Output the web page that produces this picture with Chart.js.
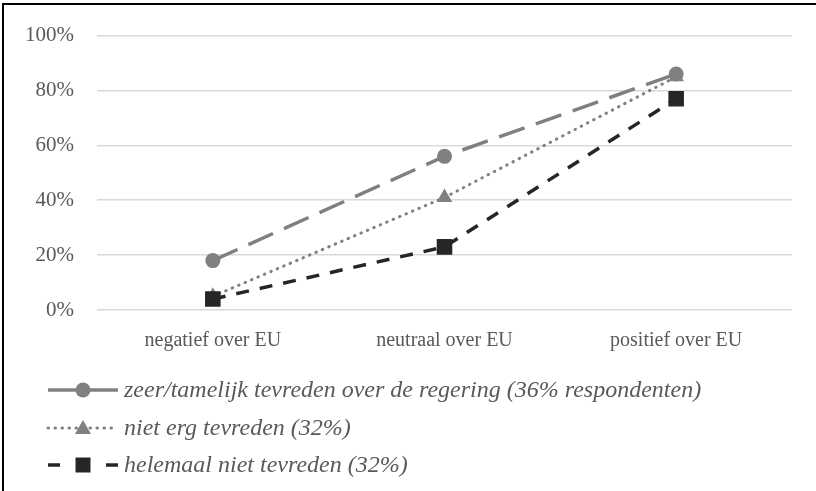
<!DOCTYPE html>
<html>
<head>
<meta charset="utf-8">
<script src="https://cdn.jsdelivr.net/npm/chart.js@4/dist/chart.umd.min.js"></script>
<style>
  html, body { margin: 0; padding: 0; background: #fff; }
  #wrap { position: relative; width: 816px; height: 491px; overflow: hidden; }
  #frameTop { position: absolute; left: 2px; top: 3px; width: 814px; height: 2px; background: #000; }
  #frameLeft { position: absolute; left: 2px; top: 3px; width: 2px; height: 488px; background: #000; }
  canvas { position: absolute; left: 0; top: 0; }
</style>
</head>
<body>
<div id="wrap">
  <canvas id="chart" width="816" height="491"></canvas>
  <div id="frameTop"></div>
  <div id="frameLeft"></div>
</div>
<script>
// data
var categories = ["negatief over EU", "neutraal over EU", "positief over EU"];
var seriesNames = [
  "zeer/tamelijk tevreden over de regering (36% respondenten)",
  "niet erg tevreden (32%)",
  "helemaal niet tevreden (32%)"
];
var tevreden = [18, 56, 86];
var nietErgTevreden = [5, 41, 85];
var helemaalNietTevreden = [4, 23, 77];
var yTicks = [0, 20, 40, 60, 80, 100];

var FONT = "'Liberation Serif', 'Times New Roman', serif";
var TEXT = "#595959";
var GRAY = "#808080";
var DARK = "#262626";

// legend drawn one entry per line, like the original
var stackedLegend = {
  id: "stackedLegend",
  afterDraw: function (chart) {
    var ctx = chart.ctx;
    var rows = [390, 428, 465];
    var x0 = 48, x1 = 118, xm = 83;
    chart.data.datasets.forEach(function (ds, i) {
      var y = rows[i];
      ctx.save();
      ctx.strokeStyle = ds.borderColor;
      ctx.lineWidth = ds.borderWidth;
      ctx.lineCap = i === 1 ? "round" : "butt";
      if (i === 0) ctx.setLineDash([]);
      if (i === 1) ctx.setLineDash([0.5, 6.5]);
      if (i === 2) ctx.setLineDash([12, 46]);
      ctx.beginPath();
      ctx.moveTo(x0, y);
      ctx.lineTo(x1, y);
      ctx.stroke();
      ctx.setLineDash([]);
      ctx.fillStyle = ds.pointBackgroundColor;
      ctx.beginPath();
      if (ds.pointStyle === "circle") {
        ctx.arc(xm, y, 7.5, 0, Math.PI * 2);
      } else if (ds.pointStyle === "triangle") {
        ctx.moveTo(xm, y - 8);
        ctx.lineTo(xm + 8, y + 6);
        ctx.lineTo(xm - 8, y + 6);
        ctx.closePath();
      } else {
        ctx.rect(xm - 7.5, y - 7.5, 15, 15);
      }
      ctx.fill();
      ctx.font = "italic 24px " + FONT;
      ctx.fillStyle = TEXT;
      ctx.textBaseline = "middle";
      ctx.fillText(seriesNames[i], 124, y + 1);
      ctx.restore();
    });
  }
};

var ctx = document.getElementById("chart");
var myChart = new Chart(ctx, {
  type: "line",
  data: {
    labels: categories,
    datasets: [
      {
        label: seriesNames[0],
        data: tevreden,
        borderColor: GRAY,
        borderWidth: 3.5,
        borderDash: [27, 12],
        pointStyle: "circle",
        pointRadius: 7.5,
        pointBackgroundColor: GRAY,
        pointBorderWidth: 0,
        order: 0,
        fill: false,
      },
      {
        label: seriesNames[1],
        data: nietErgTevreden,
        borderColor: GRAY,
        borderWidth: 3,
        borderDash: [0.5, 6.5],
        borderCapStyle: "round",
        pointStyle: "triangle",
        pointRadius: 9,
        pointBackgroundColor: GRAY,
        pointBorderWidth: 0,
        order: 2,
        fill: false,
      },
      {
        label: seriesNames[2],
        data: helemaalNietTevreden,
        borderColor: DARK,
        borderWidth: 3.5,
        borderDash: [13, 11],
        pointStyle: "rect",
        pointRadius: 11,
        pointBackgroundColor: DARK,
        pointBorderWidth: 0,
        order: 1,
        fill: false,
      },
    ],
  },
  options: {
    responsive: false,
    animation: false,
    layout: {
      padding: { left: 0, right: 24, top: 33, bottom: 131 },
    },
    scales: {
      x: {
        offset: true,
        grid: { display: false },
        border: { display: false },
        ticks: {
          color: TEXT,
          font: { family: FONT, size: 20 },
          padding: 11,
          maxRotation: 0,
        },
        afterFit: function (scale) {
          scale.height = 50;
        },
      },
      y: {
        min: 0,
        max: 100,
        afterBuildTicks: function (scale) {
          scale.ticks = yTicks.map(function (v) { return { value: v }; });
        },
        grid: { color: "#d9d9d9", lineWidth: 1.5, drawTicks: false },
        border: { display: false },
        ticks: {
          color: TEXT,
          font: { family: FONT, size: 21 },
          padding: 23,
          callback: function (v) { return v + "%"; },
        },
        afterFit: function (scale) {
          scale.width = 97;
        },
      },
    },
    plugins: {
      legend: { display: false },
      tooltip: { enabled: false },
    },
  },
  plugins: [stackedLegend],
});
</script>
</body>
</html>
